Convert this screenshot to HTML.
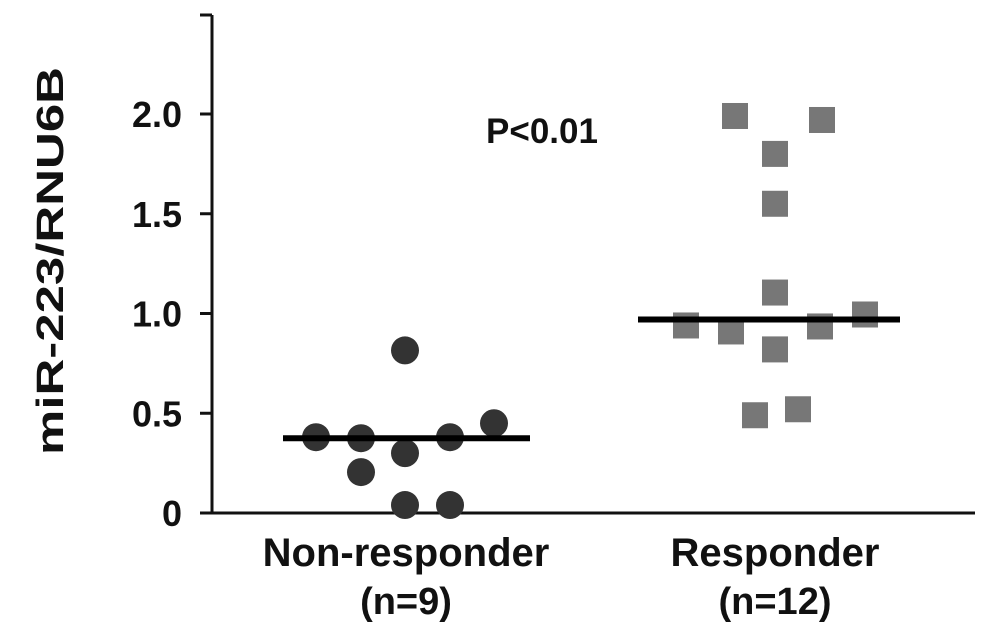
<!DOCTYPE html>
<html><head><meta charset="utf-8"><style>
html,body{margin:0;padding:0;background:#fff;}
svg{display:block;font-family:"Liberation Sans","DejaVu Sans",sans-serif;}
</style></head><body>
<svg id="chart" width="987" height="631" viewBox="0 0 987 631"></svg>
<script>
const categories = ["Non-responder", "Responder"];
const categorySubs = ["(n=9)", "(n=12)"];
const yTicks = [0, 0.5, 1.0, 1.5, 2.0];
const yTickLabels = ["0", "0.5", "1.0", "1.5", "2.0"];
const nonResponderX = [316, 361, 405, 450, 494, 405, 361, 405, 450];
const nonResponderValues = [0.38, 0.375, 0.30, 0.38, 0.45, 0.815, 0.205, 0.04, 0.04];
const responderX = [735, 822, 775, 775, 775, 686, 731, 775, 820, 865, 755, 798];
const responderValues = [1.99, 1.97, 1.80, 1.55, 1.105, 0.94, 0.91, 0.82, 0.935, 0.995, 0.49, 0.52];
const medians = [0.375, 0.97];

const svg = document.getElementById('chart');
const NS = 'http://www.w3.org/2000/svg';
const y0 = 513, pxPerUnit = 199.5, axisX = 212;
function yScale(v){ return y0 - v * pxPerUnit; }
function mk(tag, attrs){ const e = document.createElementNS(NS, tag); for (const k in attrs) e.setAttribute(k, attrs[k]); svg.appendChild(e); return e; }

let el = mk('line', {x1: axisX, y1: 15, x2: axisX, y2: y0, stroke: '#111', 'stroke-width': 3});


el = mk('line', {x1: 200, y1: 15, x2: axisX, y2: 15, stroke: '#111', 'stroke-width': 3});


el = mk('line', {x1: 200, y1: y0, x2: 975, y2: y0, stroke: '#111', 'stroke-width': 3});



yTicks.forEach((t, i) => {
  const y = yScale(t);
  let tk = mk('line', {x1: 200, y1: y, x2: axisX, y2: y, stroke: '#111', 'stroke-width': 3});
  
  
  let lb = mk('text', {x: 182, y: y + 13, 'text-anchor': 'end', 'font-size': 36, 'font-weight': 'bold', fill: '#111'});
  lb.textContent = yTickLabels[i];
  
  
});

el = mk('text', {x: 0, y: 0, transform: 'translate(63,261) rotate(-90)', 'text-anchor': 'middle', 'font-size': 38, 'font-weight': 'bold', fill: '#111', textLength: 388, lengthAdjust: 'spacingAndGlyphs'});
el.textContent = 'miR-223/RNU6B';



const catX = [406, 775];
categories.forEach((c, i) => {
  let t = mk('text', {x: catX[i], y: 566, 'text-anchor': 'middle', 'font-size': 40, 'font-weight': 'bold', fill: '#111'});
  t.textContent = c;
  
  
  let s = mk('text', {x: catX[i], y: 614, 'text-anchor': 'middle', 'font-size': 38, 'font-weight': 'bold', fill: '#111'});
  s.textContent = categorySubs[i];
  
  
});

nonResponderValues.forEach((v, i) => {
  let c = mk('circle', {cx: nonResponderX[i], cy: yScale(v), r: 14, fill: '#333'});
  
  
});
responderValues.forEach((v, i) => {
  let r = mk('rect', {x: responderX[i] - 13, y: yScale(v) - 13, width: 26, height: 26, fill: '#777'});
  
  
});

const medX = [[283, 530], [638, 900]];
medians.forEach((m, i) => {
  let l = mk('line', {x1: medX[i][0], y1: yScale(m), x2: medX[i][1], y2: yScale(m), stroke: '#000', 'stroke-width': 6});
  
  
});

el = mk('text', {x: 542, y: 143, 'text-anchor': 'middle', 'font-size': 35, 'font-weight': 'bold', fill: '#111'});
el.textContent = 'P<0.01';


</script>
</body></html>
